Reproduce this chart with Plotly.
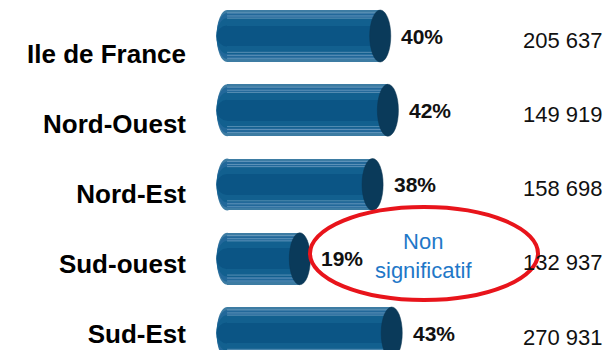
import plotly.graph_objects as go

# Data
regions = ["Ile de France", "Nord-Ouest", "Nord-Est", "Sud-ouest", "Sud-Est"]
shares = [40, 42, 38, 19, 43]          # % per region
counts = ["205 637", "149 919", "158 698", "132 937", "270 931"]
note_region = "Sud-ouest"
note_text = "Non<br>significatif"

idx = list(range(len(regions)))

# Cylinder geometry (data units)
BAR_W = 0.70
CAP_HALF = 2.75

CAP = "#0a3a5a"
gradient = [(0.70, "#3d7ca3"), (0.62, "#22689a"), (0.48, "#12608f"), (0.28, "#0b5585")]

SANS = "Liberation Sans, Arial, sans-serif"

fig = go.Figure()

# body of each cylinder, layered for a vertical shading
for w, col in gradient:
    fig.add_trace(go.Bar(
        x=shares, y=idx, orientation="h", width=w,
        marker=dict(color=col, line=dict(width=0)),
        hoverinfo="skip", showlegend=False,
    ))

# faint light streaks along each cylinder
streaks = [-0.31, -0.27, -0.24, 0.22, 0.26, 0.30]
for i, v in zip(idx, shares):
    for d in streaks:
        fig.add_trace(go.Scatter(
            x=[0, v], y=[i + d, i + d], mode="lines",
            line=dict(color="rgba(170,200,225,0.45)", width=1),
            hoverinfo="skip", showlegend=False,
        ))

# invisible trace carrying the region axis
fig.add_trace(go.Scatter(
    x=[0] * len(idx), y=idx, yaxis="y2", mode="markers",
    marker=dict(opacity=0), hoverinfo="skip", showlegend=False,
))

shapes = []
for i, v in zip(idx, shares):
    # rounded back end
    for w, col in gradient:
        shapes.append(dict(
            type="circle", xref="x", yref="y", layer="below",
            x0=-CAP_HALF, x1=CAP_HALF, y0=i - w / 2, y1=i + w / 2,
            fillcolor=col, line=dict(width=0),
        ))
    # front end cap
    shapes.append(dict(
        type="circle", xref="x", yref="y", layer="above",
        x0=v - CAP_HALF, x1=v + CAP_HALF, y0=i - BAR_W / 2, y1=i + BAR_W / 2,
        fillcolor=CAP, line=dict(color="#0a3450", width=0.5),
    ))

# red callout around the non-significant result
shapes.append(dict(
    type="circle", xref="paper", yref="paper",
    x0=310 / 610, x1=538 / 610, y0=1 - 300 / 350, y1=1 - 207 / 350,
    line=dict(color="#e8141b", width=4), fillcolor="rgba(0,0,0,0)",
))

annotations = []
for i, v in zip(idx, shares):
    annotations.append(dict(
        x=v, y=i, xref="x", yref="y", text=f"<b>{v}%</b>",
        xanchor="left", yanchor="middle", xshift=19, showarrow=False,
        font=dict(family=SANS, size=21, color="#111111"),
    ))
for i, c in zip(idx, counts):
    annotations.append(dict(
        x=604 / 610, y=i, xref="paper", yref="y", text=c,
        xanchor="right", yanchor="middle", yshift=-4, showarrow=False,
        borderpad=0,
        font=dict(family=SANS, size=22, color="#111111"),
    ))
annotations.append(dict(
    x=423 / 610, y=regions.index(note_region), xref="paper", yref="y",
    text=note_text, xanchor="center", yanchor="middle", yshift=3,
    showarrow=False, font=dict(family=SANS, size=22, color="#1f78c8"),
))

fig.update_layout(
    width=610, height=350,
    margin=dict(l=0, r=0, t=0, b=0),
    paper_bgcolor="white", plot_bgcolor="white",
    barmode="overlay", bargap=0,
    hovermode=False,
    xaxis=dict(range=[-59.3, 100.0], visible=False, fixedrange=True),
    yaxis=dict(range=[4.229, -0.485], visible=False, fixedrange=True),
    yaxis2=dict(
        overlaying="y", anchor="free", position=186 / 610, side="left",
        range=[4.229, -0.771], tickvals=idx, ticktext=regions,
        showgrid=False, zeroline=False, showline=False, ticks="",
        tickfont=dict(family=SANS, size=26, color="#000000", weight="bold"),
        fixedrange=True,
    ),
    shapes=shapes,
    annotations=annotations,
)

fig.write_html("out.html")
